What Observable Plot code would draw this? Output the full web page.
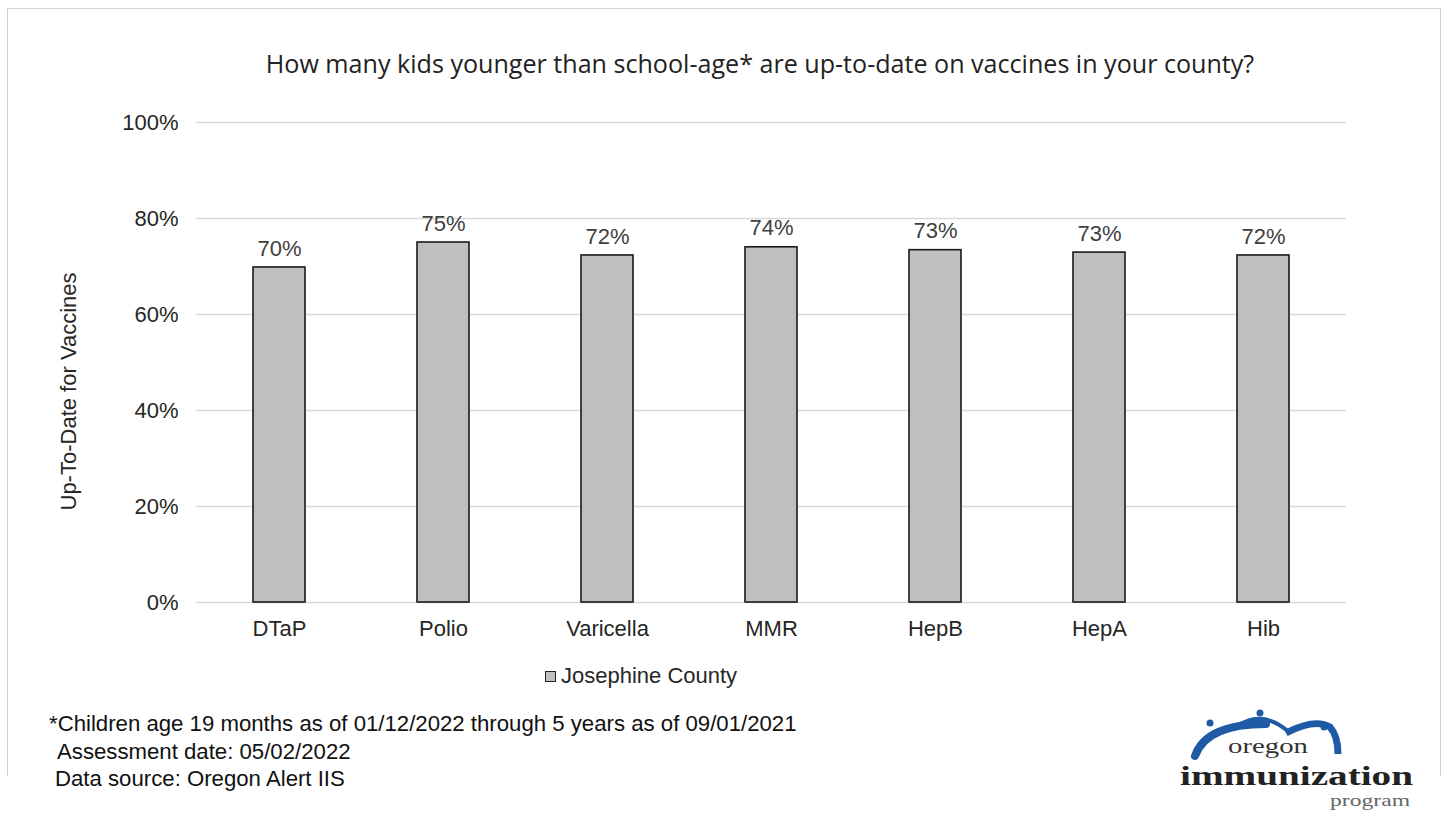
<!DOCTYPE html>
<html>
<head>
<meta charset="utf-8">
<script src="https://cdn.jsdelivr.net/npm/d3@7"></script>
<script src="https://cdn.jsdelivr.net/npm/@observablehq/plot@0.6"></script>
<style>
  html, body { margin: 0; padding: 0; background: #fff; }
  body { width: 1445px; height: 813px; position: relative; overflow: hidden; font-family: "Liberation Sans", Arial, sans-serif; }
  #frame { position: absolute; left: 7px; top: 8px; width: 1432px; height: 767px; border: 1.5px solid #d3d3d3; border-bottom: none; }
  #title { position: absolute; left: 0; width: 1520px; top: 46px; text-align: center; font-family: "Open Sans", sans-serif; font-size: 25.1px; color: #222; white-space: nowrap; }
  #chart { position: absolute; left: 0; top: 90px; }
  #legend { position: absolute; top: 662px; left: 545px; font-size: 22px; color: #262626; display: flex; align-items: center; height: 28px; }
  #legend .sw { width: 9px; height: 9px; background: #bfbfbf; border: 1.5px solid #222; margin-right: 5px; }
  .foot { position: absolute; font-family: "Liberation Sans", Arial, sans-serif; font-size: 22.2px; color: #111; white-space: nowrap; }
  #logo { position: absolute; left: 1170px; top: 700px; }
</style>
</head>
<body>
<div id="frame"></div>
<div id="title">How many kids younger than school-age* are up-to-date on vaccines in your county?</div>
<div id="chart"></div>
<div id="legend"><div class="sw"></div><span>Josephine County</span></div>
<div class="foot" style="left:49px; top:711px;">*Children age 19 months as of 01/12/2022 through 5 years as of 09/01/2021</div>
<div class="foot" style="left:57px; top:739px;">Assessment date: 05/02/2022</div>
<div class="foot" style="left:55px; top:766px;">Data source: Oregon Alert IIS</div>
<svg id="logo" width="250" height="112" viewBox="0 0 250 112">
  <path d="M25,56 Q36,24 96,24" fill="none" stroke="#1f5aa6" stroke-width="8" stroke-linecap="round"/>
  <path d="M66,27 Q92,8 120,33" fill="none" stroke="#1f5aa6" stroke-width="4"/>
  <path d="M116,33 Q145,18 160,27 Q168,36 168,54" fill="none" stroke="#1f5aa6" stroke-width="7"/>
  <circle cx="40" cy="23" r="3.5" fill="#1f5aa6"/>
  <circle cx="90" cy="13" r="3.5" fill="#1f5aa6"/>
  <circle cx="154" cy="27" r="3.5" fill="#1f5aa6"/>
  <text x="58" y="53" textLength="80" lengthAdjust="spacingAndGlyphs" font-family="Liberation Serif, serif" font-size="21" fill="#333">oregon</text>
  <text x="10" y="85" textLength="233" lengthAdjust="spacingAndGlyphs" font-family="Liberation Serif, serif" font-weight="bold" font-size="28" fill="#222">immunization</text>
  <text x="160" y="106" textLength="80" lengthAdjust="spacingAndGlyphs" font-family="Liberation Serif, serif" font-size="16" fill="#666">program</text>
</svg>
<script>
const vaccines = ["DTaP", "Polio", "Varicella", "MMR", "HepB", "HepA", "Hib"];
const rates = [69.8, 75.0, 72.3, 74.0, 73.4, 72.9, 72.3];
const yTicks = [0, 20, 40, 60, 80, 100];
const yLabel = "Up-To-Date for Vaccines";
const countyName = "Josephine County";

const data = vaccines.map((v, i) => ({vaccine: v, rate: rates[i], county: countyName}));

const chart = Plot.plot({
  width: 1445,
  height: 560,
  marginTop: 32,
  marginBottom: 48,
  marginLeft: 196,
  marginRight: 99,
  style: {fontFamily: "Liberation Sans, Arial, sans-serif", fontSize: "22px", color: "#262626", background: "transparent"},
  x: {domain: vaccines, paddingInner: 0.683, paddingOuter: 0.34, align: 0.5, label: null, tickSize: 0, tickPadding: 18},
  y: {domain: [0, 100], ticks: yTicks, tickFormat: d => d + "%", label: null, tickSize: 0, tickPadding: 18},
  marks: [
    Plot.gridY(yTicks, {stroke: "#d9d9d9", strokeOpacity: 1, strokeWidth: 1.5}),
    Plot.barY(data, {x: "vaccine", y: "rate", fill: "#bfbfbf", stroke: "#1a1a1a", strokeWidth: 1.6}),
    Plot.text(data, {x: "vaccine", y: "rate", text: d => Math.round(d.rate) + "%", dy: -19, fill: "#404040", fontSize: 22}),
    Plot.text([yLabel], {text: d => d, frameAnchor: "left", textAnchor: "middle", rotate: -90, dx: -128, dy: 29, fontSize: 22, fill: "#262626"})
  ]
});
document.getElementById("chart").appendChild(chart);
</script>
</body>
</html>
